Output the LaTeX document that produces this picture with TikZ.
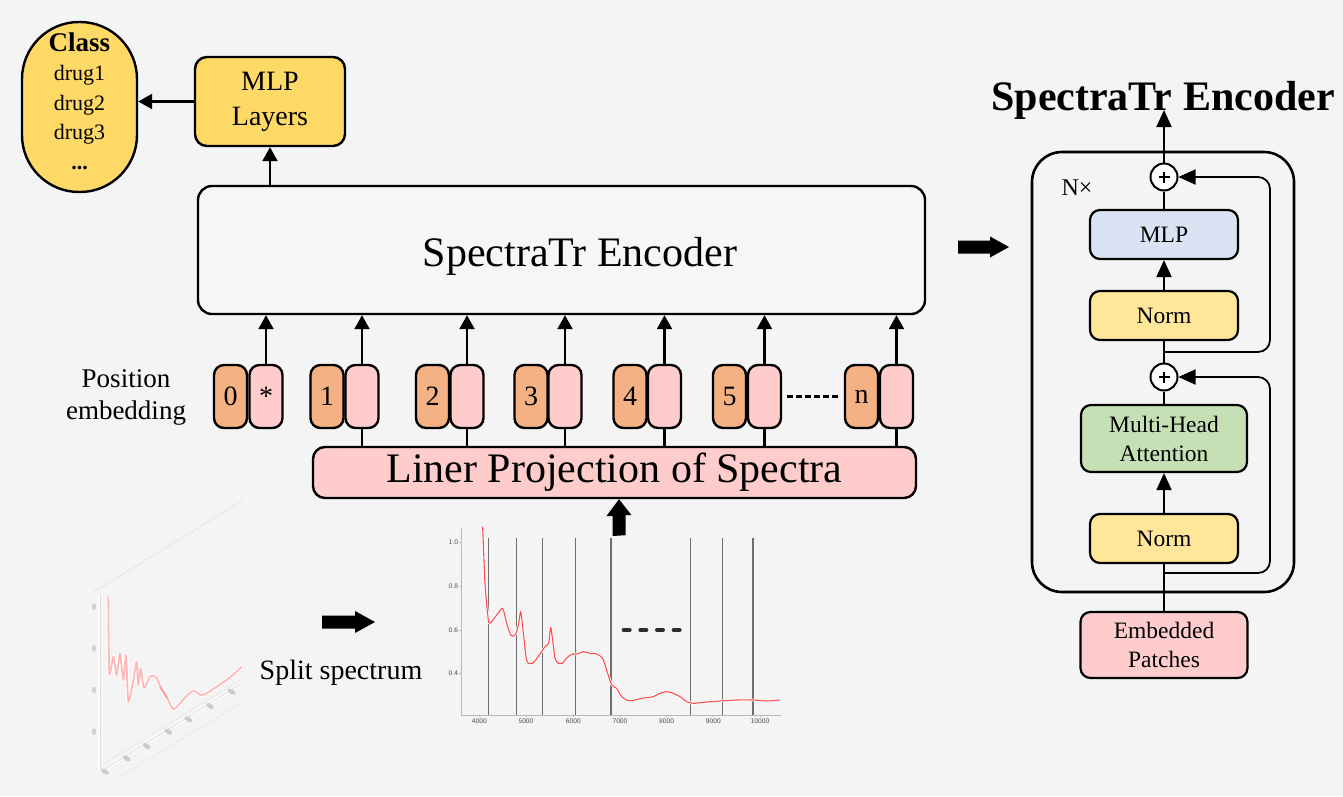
\documentclass[tikz,border=0pt]{standalone}
\usepackage{fontspec}
\setmainfont{Liberation Serif}
\usetikzlibrary{arrows.meta,calc}
\definecolor{bgc}{HTML}{F4F4F4}
\definecolor{encC}{HTML}{F6F6F6}
\definecolor{yelC}{HTML}{FFD966}
\definecolor{orC}{HTML}{F4B183}
\definecolor{pkC}{HTML}{FFCCCC}
\definecolor{blueC}{HTML}{DAE3F3}
\definecolor{normC}{HTML}{FFE699}
\definecolor{grnC}{HTML}{C5E0B4}
\definecolor{vlineC}{HTML}{6E6E6E}
\definecolor{curveC}{HTML}{FF4A4A}
\begin{document}
\begin{tikzpicture}[x=1pt,y=-1pt,
  box/.style={draw, line width=2.4pt, rounded corners=12pt, inner sep=0pt, align=center},
  pill/.style={draw, line width=2.4pt, rounded corners=10pt, minimum width=33pt, minimum height=63pt, inner sep=0pt, font=\fontsize{28}{30}\selectfont},
  arr/.style={line width=2.2pt, -{Triangle[length=14pt,width=15pt]}},
  link/.style={line width=2.2pt},
  rbox/.style={draw, line width=2.2pt, rounded corners=10pt, inner sep=0pt, align=center, font=\fontsize{23.5}{29}\selectfont},
  rarr/.style={line width=2pt, -{Triangle[length=17pt,width=15pt]}},
  rlink/.style={line width=2pt},
  resid/.style={line width=1.8pt, rounded corners=12pt, -{Triangle[length=17pt,width=15pt]}},
  plusnode/.style={draw, circle, line width=2pt, fill=white, minimum size=27pt, inner sep=0pt,
    path picture={\draw[line width=2.4pt] (path picture bounding box.center) ++(-5.5pt,0pt) -- ++(11pt,0pt);
                  \draw[line width=2.4pt] (path picture bounding box.center) ++(0pt,-5.5pt) -- ++(0pt,11pt);}},
  blockarrow/.style={fill=black}
]
\fill[bgc] (0,0) rectangle (1343,796);
\useasboundingbox (0,0) rectangle (1343,796);

% ---------- left part ----------
\node[box, fill=yelC, rounded corners=57pt, minimum width=115pt, minimum height=170pt] (cls) at (79.5,107) {};
\node[align=center, inner sep=0pt, font=\fontsize{22}{29.5}\selectfont] (clstxt) at (79.5,101)
  {{\fontsize{27}{29.5}\selectfont\bfseries Class}\\drug1\\drug2\\drug3\\\textbf{...}};
\node[box, fill=yelC, minimum width=150pt, minimum height=89pt,
      font=\fontsize{28}{35}\selectfont] (mlp) at (270,101.5) {MLP\\Layers};
\draw[arr] (mlp.west) -- (cls.east |- mlp.west);

\node[box, fill=encC, rounded corners=14pt, minimum width=727pt, minimum height=128pt] (enc) at (561.5,250) {};
\node[font=\fontsize{42}{44}\selectfont, inner sep=0pt] (enctxt) at (580,256) {SpectraTr Encoder};
\draw[arr] (enc.north -| mlp.south) -- (mlp.south);

% tokens
\node[pill, fill=orC] (o0) at (230.5,396.5) {0};
\node[pill, fill=pkC] (p0) at (266,396.5) {*};
\draw[arr] (p0.north) -- (p0.north |- enc.south);
\foreach \i/\xo/\xp in {1/327/362, 2/432.5/467, 3/531/565, 4/630/664.5, 5/729.5/764.5, n/861.5/896.5}{
  \node[pill, fill=orC] (o\i) at (\xo,396.5) {\i};
  \node[pill, fill=pkC] (p\i) at (\xp,396.5) {};
  \draw[arr] (p\i.north) -- (p\i.north |- enc.south);
}
\node[box, fill=pkC, minimum width=603pt, minimum height=51pt,
      font=\fontsize{42}{44}\selectfont] (proj) at (614.5,472.5) {Liner Projection of Spectra};
\foreach \i in {1,2,3,4,5,n}{
  \draw[link] (p\i.south) -- (p\i.south |- proj.north);
}
\draw[line width=2.4pt, dash pattern=on 6pt off 3pt, shorten <=5pt, shorten >=5pt] (p5.east) -- (on.west);

\node[font=\fontsize{27}{32}\selectfont, align=center] (posemb) at (126,397) {Position\\embedding};

% block arrow into projection
\coordinate (ua) at (619,536);
\fill[blockarrow] (ua) ++(-6.5,0) -- ++(0,-20) -- ++(-6,0) -- (proj.south -| ua) -- ++(12.5,16) -- ++(-6,0) -- ++(0,20) -- cycle;

% spectrum plot
\begin{scope}[xshift=420pt, yshift=-500pt, x=0.3333pt, y=-0.3333pt]
  \draw[gray!55, line width=0.6pt] (125,85) -- (125,645) -- (1083,645);
  \foreach \yy/\l in {128/1.0, 258/0.8, 390/0.6, 520/0.4}{
    \draw[gray!55, line width=0.5pt] (118,\yy) -- (125,\yy);
    \node[left, inner sep=1pt, font=\sffamily\fontsize{7}{7}\selectfont, text=gray!60!black] at (118,\yy) {\l};
  }
  \foreach \xx/\l in {178/4000, 318/5000, 460/6000, 600/7000, 740/8000, 880/9000, 1020/10000}{
    \draw[gray!55, line width=0.5pt] (\xx,645) -- (\xx,652);
    \node[below, inner sep=1.5pt, font=\sffamily\fontsize{7}{7}\selectfont, text=gray!60!black] at (\xx,652) {\l};
  }
  \foreach \xx in {205,290,368,467,573,812,907,999}{
    \draw[vlineC, line width=1.5pt] (\xx,115) -- (\xx,645);
  }
  \draw[white, line width=2.6pt, line join=round] plot[smooth, tension=0.4] coordinates {
    (188,80) (195,250) (205,360) (212,368) (230,345) (248,325) (260,370) (272,405) (282,408)
    (290,395) (296,370) (302,335) (308,380) (318,470) (325,490) (337,490) (347,480) (360,462)
    (375,440) (386,430) (392,382) (398,420) (405,475) (415,490) (427,490) (437,478) (447,468)
    (458,462) (472,462) (490,455) (510,460) (530,462) (548,475) (560,510) (575,555) (590,565)
    (605,590) (625,602) (645,600) (665,595) (700,590) (720,580) (740,575) (760,580) (780,590)
    (800,605) (820,610) (850,607) (900,603) (950,600) (1000,600) (1040,603) (1080,600)};
  \draw[curveC, line width=1.1pt, line join=round] plot[smooth, tension=0.4] coordinates {
    (188,80) (195,250) (205,360) (212,368) (230,345) (248,325) (260,370) (272,405) (282,408)
    (290,395) (296,370) (302,335) (308,380) (318,470) (325,490) (337,490) (347,480) (360,462)
    (375,440) (386,430) (392,382) (398,420) (405,475) (415,490) (427,490) (437,478) (447,468)
    (458,462) (472,462) (490,455) (510,460) (530,462) (548,475) (560,510) (575,555) (590,565)
    (605,590) (625,602) (645,600) (665,595) (700,590) (720,580) (740,575) (760,580) (780,590)
    (800,605) (820,610) (850,607) (900,603) (950,600) (1000,600) (1040,603) (1080,600)};
  \foreach \xx in {620,670,720,770}{
    \draw[line width=4pt, line cap=round, gray!35!black] (\xx-9,390) -- (\xx+9,390);
  }
\end{scope}

% faded skewed spectrum
\begin{scope}[xshift=40pt, yshift=-480pt, x=0.3333pt, y=-0.3333pt]
  \draw[gray!25, line width=0.8pt, dash pattern=on 2pt off 1pt] (155,340) -- (610,60);
  \draw[white, line width=3pt] (180,345) -- (180,870);
  \draw[gray!28, line width=0.8pt] (180,345) -- (180,870);
  \draw[white, line width=3pt] (190,870) -- (605,610);
  \draw[gray!30, line width=0.8pt] (190,870) -- (605,610);
  \draw[gray!22, line width=0.7pt, dash pattern=on 2pt off 1pt] (190,852) -- (605,598);
  \draw[gray!22, line width=0.7pt, dash pattern=on 2pt off 1pt] (235,893) -- (605,668);
  \foreach \yy in {380,505,630,755}{
    \fill[gray!35] (162,\yy) ellipse (7 and 10);
  }
  \foreach \xx/\yy in {195/875, 260/835, 320/798, 385/755, 445/718, 510/678, 575/635}{
    \fill[gray!40, rotate around={-32:(\xx,\yy)}] (\xx,\yy) ellipse (13 and 7);
  }
  \draw[white, line width=4pt, line join=round] plot[smooth, tension=0.4] coordinates {
    (205,350) (208,580) (220,530) (230,585) (240,520) (250,600) (258,525) (265,665) (280,600)
    (290,545) (295,615) (302,565) (312,625) (330,590) (347,590) (362,620) (382,655) (400,688)
    (420,670) (440,648) (460,632) (482,645) (500,640) (530,620) (560,600) (590,575) (605,560)};
  \draw[red!28, line width=1.8pt, line join=round] plot[smooth, tension=0.4] coordinates {
    (205,350) (208,580) (220,530) (230,585) (240,520) (250,600) (258,525) (265,665) (280,600)
    (290,545) (295,615) (302,565) (312,625) (330,590) (347,590) (362,620) (382,655) (400,688)
    (420,670) (440,648) (460,632) (482,645) (500,640) (530,620) (560,600) (590,575) (605,560)};
  \draw[red!40, line width=1.8pt] (360,620) -- (382,655);
\end{scope}

\node[font=\fontsize{28}{30}\selectfont] (split) at (341,673) {Split spectrum};
\coordinate (ra) at (322,622);
\fill[blockarrow] (ra) ++(0,-6.5) -- ++(33,0) -- ++(0,-4.5) -- ++(20,11) -- ++(-20,11) -- ++(0,-4.5) -- ++(-33,0) -- cycle;

\coordinate (rb) at (958,247);
\fill[blockarrow] (rb) ++(0,-6.5) -- ++(32,0) -- ++(0,-4) -- ++(19,10.5) -- ++(-19,10.5) -- ++(0,-4) -- ++(-32,0) -- cycle;

% ---------- right panel ----------
\node[font=\fontsize{42}{44}\selectfont\bfseries, inner sep=0pt] (ttl) at (1163,100) {SpectraTr Encoder};
\coordinate (ttip) at (1164,110);
\node[draw, line width=2.6pt, rounded corners=30pt, minimum width=262pt, minimum height=440pt] (outer) at (1163,372) {};
\node[font=\fontsize{24}{26}\selectfont] (nx) at (1077,188) {N×};

\node[plusnode] (plu) at (1164,177) {};
\node[plusnode] (pll) at (1164,377) {};
\node[rbox, fill=blueC, minimum width=148pt, minimum height=49pt] (mlpr) at (1164,234.5) {MLP};
\node[rbox, fill=normC, minimum width=148pt, minimum height=49pt] (normu) at (1164,315.5) {Norm};
\node[rbox, fill=grnC, minimum width=166pt, minimum height=67pt] (mha) at (1164,438.5) {Multi-Head\\Attention};
\node[rbox, fill=normC, minimum width=148pt, minimum height=49pt] (norml) at (1164,538.5) {Norm};
\node[rbox, fill=pkC, minimum width=167pt, minimum height=66pt] (emb) at (1164,645) {Embedded\\Patches};

\draw[rlink] (emb.north) -- (norml.south);
\draw[rarr] (norml.north) -- (mha.south);
\draw[rlink] (mha.north) -- (pll.south);
\draw[rlink] (pll.north) -- (normu.south);
\draw[rarr] (normu.north) -- (mlpr.south);
\draw[rlink] (mlpr.north) -- (plu.south);
\draw[rarr] (plu.north) -- (ttip);

\coordinate (bl) at (1164,573);
\coordinate (bu) at (1164,352);
\draw[resid] (bl) -- (1270,573) -- (1270,377) -- (pll.east);
\draw[resid] (bu) -- (1270,352) -- (1270,177) -- (plu.east);
\end{tikzpicture}
\end{document}
